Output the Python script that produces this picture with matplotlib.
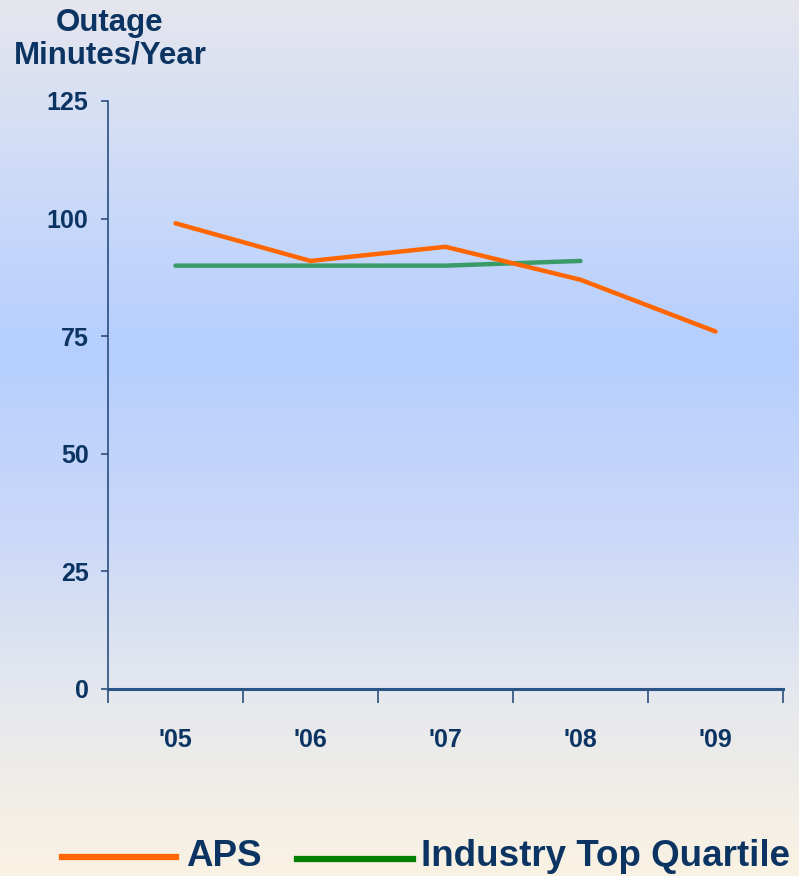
import numpy as np
import matplotlib
matplotlib.use("Agg")
import matplotlib.pyplot as plt
from matplotlib.colors import LinearSegmentedColormap
from matplotlib.lines import Line2D

categories = ["'05", "'06", "'07", "'08", "'09"]
aps = [99, 91, 94, 87, 76]
industry = [90, 90, 90, 91]
series_names = ["APS", "Industry Top Quartile"]
yticks = [0, 25, 50, 75, 100, 125]

NAVY = "#0b3463"
ORANGE = "#ff6600"
GREEN_LINE = "#3a9a68"
GREEN_LEG = "#008000"
narrow = ["Liberation Sans Narrow", "Liberation Sans", "DejaVu Sans"]
wide = ["Liberation Sans", "DejaVu Sans"]

W, H = 799, 876
fig = plt.figure(figsize=(W / 100, H / 100), dpi=100)

# background gradient
bg = fig.add_axes([0, 0, 1, 1], zorder=-10)
stops = [(0.0, (0.90, 0.90, 0.93)), (0.15, (0.83, 0.87, 0.96)), (0.40, (0.71, 0.81, 1.0)),
         (0.62, (0.80, 0.85, 0.97)), (0.80, (0.90, 0.91, 0.93)), (1.0, (0.98, 0.95, 0.89))]
cmap = LinearSegmentedColormap.from_list("bg", stops)
grad = np.linspace(0, 1, 400).reshape(-1, 1)
bg.imshow(grad, aspect="auto", cmap=cmap, extent=[0, 1, 0, 1], origin="upper")
bg.set_axis_off()

ax = fig.add_axes([108 / W, 1 - 689 / H, (783 - 108) / W, (689 - 101) / H])
ax.patch.set_alpha(0)
x = np.arange(len(categories))
ax.plot(x, aps, color=ORANGE, lw=3.2, solid_capstyle="round", zorder=3)
ax.plot(x[:len(industry)], industry, color=GREEN_LINE, lw=3.2, solid_capstyle="round", zorder=2)

ax.set_xlim(-0.5, len(categories) - 0.5)
ax.set_ylim(0, 125)
ax.set_yticks(yticks)
ax.set_yticklabels([str(v) for v in yticks], family=narrow, fontweight="bold", fontsize=18, color=NAVY)
ax.set_xticks(x)
ax.set_xticklabels(categories, family=narrow, fontweight="bold", fontsize=18, color=NAVY)
ax.set_xticks(np.arange(-0.5, len(categories)), minor=True)
ax.tick_params(axis="x", which="major", length=0, pad=28)
ax.tick_params(axis="x", which="minor", length=10, width=1.2, color="#2a4f7f", direction="out")
ax.tick_params(axis="y", length=5, width=1.2, color="#2a4f7f", pad=9)
for s in ["top", "right"]:
    ax.spines[s].set_visible(False)
ax.spines["left"].set_color("#2a4f7f")
ax.spines["left"].set_linewidth(1.2)
ax.spines["bottom"].set_color("#2a5585")
ax.spines["bottom"].set_linewidth(2.2)

fig.text(110 / W, 1 - 23 / H, "Outage", ha="center", va="center", family=wide, fontweight="bold", fontsize=22.5, color=NAVY)
fig.text(110 / W, 1 - 56 / H, "Minutes/Year", ha="center", va="center", family=wide, fontweight="bold", fontsize=22.5, color=NAVY)

# legend
fig.add_artist(Line2D([62 / W, 176 / W], [1 - 857 / H] * 2, color=ORANGE, lw=4.5))
fig.text(186 / W, 1 - 857 / H, series_names[0], ha="left", va="center", family=wide, fontweight="bold", fontsize=26.5, color=NAVY)
fig.add_artist(Line2D([297 / W, 413 / W], [1 - 859 / H] * 2, color=GREEN_LEG, lw=4.5))
fig.text(421 / W, 1 - 857 / H, series_names[1], ha="left", va="center", family=wide, fontweight="bold", fontsize=26.5, color=NAVY)

fig.savefig("out.png", dpi=100)
